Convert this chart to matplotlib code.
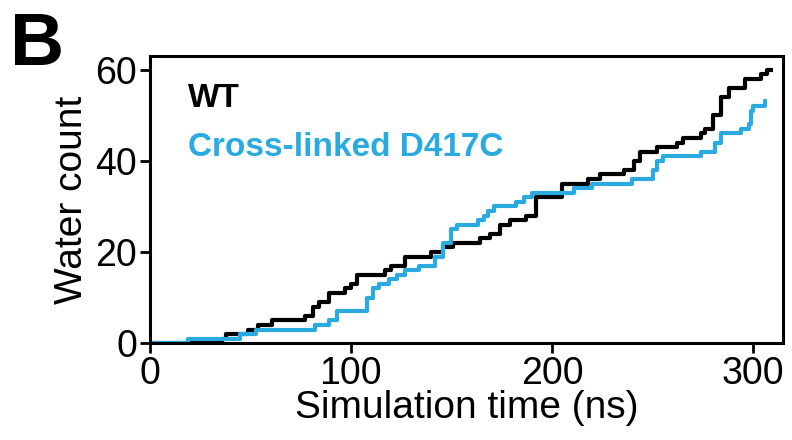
import matplotlib
matplotlib.use("Agg")
import matplotlib.pyplot as plt

plt.rcParams['font.family'] = ['Liberation Sans', 'DejaVu Sans']

# WT step data (time in ns, cumulative water count)
wt_time = [0, 36, 38, 49, 54, 61, 77, 81, 84, 89, 97, 100, 103, 117, 120, 127, 140, 146,
           151, 164, 169, 174, 179, 187, 192, 205, 218, 224, 236, 241, 244, 252, 262, 265,
           274, 276, 280, 284, 288, 296, 304, 307, 310]
wt_count = [0, 1, 2, 3, 4, 5, 6, 8, 9, 11, 12, 13, 15, 16, 17, 19, 20, 21,
            22, 23, 24, 26, 27, 28, 32, 35, 36, 37, 38, 40, 42, 43, 44, 45,
            46, 47, 50, 54, 56, 58, 59, 60, 60]

# Cross-linked D417C step data
xl_time = [0, 19, 45, 53, 82, 89, 93, 108, 111, 114, 119, 123, 127, 134, 142, 146, 150,
           153, 163, 166, 168, 171, 182, 186, 190, 211, 220, 240, 250, 252, 255, 274,
           281, 284, 294, 298, 299, 300, 306, 307]
xl_count = [0, 1, 2, 3, 4, 5, 7, 10, 12, 13, 14, 15, 16, 17, 19, 22, 25,
            26, 27, 28, 29, 30, 31, 32, 33, 34, 35, 36, 38, 40, 41, 42,
            44, 46, 47, 48, 51, 52, 53, 53]

x_ticks = [0, 100, 200, 300]
y_ticks = [0, 20, 40, 60]
series_labels = ["WT", "Cross-linked D417C"]
black = "#000000"
blue = "#29ABE2"

fig = plt.figure(figsize=(7.92, 4.40), dpi=100)
ax = fig.add_axes([0.189, 0.220, 0.800, 0.653])

ax.plot(wt_time, wt_count, drawstyle='steps-post', color=black, lw=3.0, solid_capstyle='butt')
ax.plot(xl_time, xl_count, drawstyle='steps-post', color=blue, lw=3.0, solid_capstyle='butt')

ax.set_xlim(0, 315)
ax.set_ylim(0, 63)
ax.set_xticks(x_ticks)
ax.set_yticks(y_ticks)
ax.tick_params(axis='both', labelsize=27, width=2, length=7, direction='out', pad=2)
for s in ax.spines.values():
    s.set_linewidth(2.2)

ax.set_xlabel("Simulation time (ns)", fontsize=28, labelpad=-1)
ax.set_ylabel("Water count", fontsize=28, labelpad=4)

ax.text(0.06, 0.85, series_labels[0], transform=ax.transAxes, fontsize=24,
        fontweight='bold', color=black, va='center', ha='left')
ax.text(0.06, 0.68, series_labels[1], transform=ax.transAxes, fontsize=24,
        fontweight='bold', color=blue, va='center', ha='left')

fig.text(0.012, 0.975, "B", fontsize=54, fontweight='bold', va='top', ha='left')

fig.savefig("out.png", dpi=100)
